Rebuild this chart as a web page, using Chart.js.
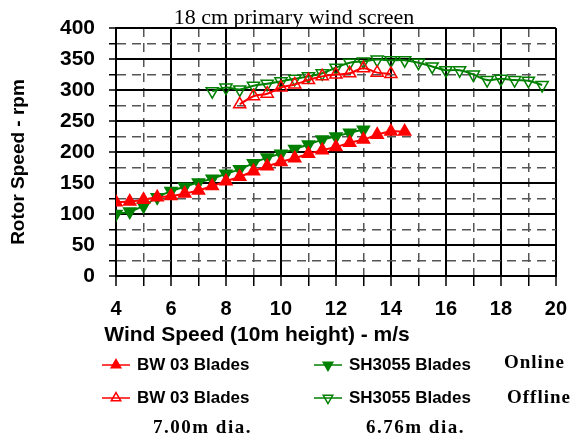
<!DOCTYPE html>
<html>
<head>
<meta charset="utf-8">
<title>18 cm primary wind screen</title>
<script src="https://cdn.jsdelivr.net/npm/chart.js@4.4.0/dist/chart.umd.min.js"></script>
<style>
body { margin: 0; background: #fff; }
</style>
</head>
<body>
<canvas id="rotor-chart" width="578" height="439"></canvas>
<script>
//DATA - rotor speed (rpm) against wind speed (m/s)
const chartTitle = '18 cm primary wind screen';

const bwOnlineSpeed = [4, 4.5, 5, 5.5, 6, 6.5, 7, 7.5, 8, 8.5, 9, 9.5, 10, 10.5, 11, 11.5, 12, 12.5, 13, 13.5, 14, 14.5];
const bwOnlineRpm = [119, 120, 123, 127, 129, 133, 138, 145, 153, 160, 169, 177, 184, 190, 197, 203, 208, 215, 220, 228, 233, 233];

const shOnlineSpeed = [4, 4.5, 5, 5.5, 6, 6.5, 7, 7.5, 8, 8.5, 9, 9.5, 10, 10.5, 11, 11.5, 12, 12.5, 13];
const shOnlineRpm = [100, 104, 113, 127, 137, 144, 151, 157, 165, 172, 182, 191, 197, 205, 212, 220, 225, 231, 236];

const bwOfflineSpeed = [8.5, 9, 9.5, 10, 10.5, 11, 11.5, 12, 12.5, 13, 13.5, 14];
const bwOfflineRpm = [277, 290, 294, 304, 309, 316, 322, 325, 327, 335, 328, 326];

const shOfflineSpeed = [7.5, 8, 8.5, 9, 9.5, 10, 10.5, 11, 11.5, 12, 12.5, 13, 13.5, 14, 14.5, 15, 15.5, 16, 16.5, 17, 17.5, 18, 18.5, 19, 19.5];
const shOfflineRpm = [298, 304, 301, 307, 310, 314, 318, 322, 327, 336, 344, 346, 349, 348, 348, 344, 338, 332, 332, 325, 316, 318, 316, 315, 308];

const seriesLabels = ['BW 03 Blades', 'SH3055 Blades', 'BW 03 Blades', 'SH3055 Blades'];
const modeLabels = ['Online', 'Offline'];
const diameterLabels = ['7.00m dia.', '6.76m dia.'];
const xAxisTitle = 'Wind Speed (10m height) - m/s';
const yAxisTitle = 'Rotor Speed - rpm';

const RED = '#ff0000';
const GREEN = '#008000';

function toPoints(xs, ys) {
    return xs.map((x, i) => ({x: x, y: ys[i]}));
}

function makeSeries(label, xs, ys, color, filled, rotation) {
    return {
        label: label,
        data: toPoints(xs, ys),
        borderColor: color,
        backgroundColor: color,
        borderWidth: 2,
        tension: 0.4,
        pointStyle: 'triangle',
        pointRotation: rotation,
        pointRadius: 7,
        pointHoverRadius: 7,
        pointBorderWidth: 1.5,
        pointBackgroundColor: filled ? color : 'rgba(255,255,255,0)',
        pointBorderColor: color
    };
}

const rotorData = {
    datasets: [
        makeSeries(seriesLabels[0], bwOnlineSpeed, bwOnlineRpm, RED, true, 0),
        makeSeries(seriesLabels[1], shOnlineSpeed, shOnlineRpm, GREEN, true, 180),
        makeSeries(seriesLabels[2], bwOfflineSpeed, bwOfflineRpm, RED, false, 0),
        makeSeries(seriesLabels[3], shOfflineSpeed, shOfflineRpm, GREEN, false, 180)
    ]
};

//grid helpers - solid black on the labelled ticks, grey dashes between
const xMajor = c => c.tick && c.tick.value % 2 === 0;
const yMajor = c => c.tick && c.tick.value % 50 === 0;

function gridFor(isMajor, tickLength) {
    return {
        color: c => isMajor(c) ? '#000' : '#555',
        lineWidth: c => isMajor(c) ? 2 : 1.5,
        tickColor: '#000',
        tickWidth: 1.5,
        tickLength: tickLength,
        tickBorderDash: []
    };
}

function borderFor(isMajor) {
    return {
        display: true,
        color: '#000',
        width: 2,
        dash: c => (c.tick && !isMajor(c)) ? [9, 6] : []
    };
}

function triangle(ctx, x, y, r, rot) {
    ctx.beginPath();
    for (let k = 0; k < 3; k++) {
        const a = (rot + k * 120) * Math.PI / 180;
        const px = x + Math.sin(a) * r;
        const py = y - Math.cos(a) * r;
        if (k === 0) ctx.moveTo(px, py); else ctx.lineTo(px, py);
    }
    ctx.closePath();
}

//title, axis titles and the legend block under the chart
const textPlugin = {
    id: 'textPlugin',
    afterDraw(chart) {
        const ctx = chart.ctx;
        ctx.save();
        ctx.fillStyle = '#000';

        ctx.font = '22px "Liberation Serif", "Times New Roman", serif';
        ctx.textAlign = 'center';
        ctx.textBaseline = 'alphabetic';
        ctx.fillText(chartTitle, 294, 24);

        ctx.font = 'bold 21px "Liberation Sans", Arial, sans-serif';
        ctx.textBaseline = 'middle';
        ctx.fillText(xAxisTitle, 257, 335);

        ctx.save();
        ctx.translate(19, 162);
        ctx.rotate(-Math.PI / 2);
        ctx.font = 'bold 19px "Liberation Sans", Arial, sans-serif';
        ctx.fillText(yAxisTitle, 0, 0);
        ctx.restore();

        //legend entries
        const slots = [[116, 365], [328, 365], [116, 398], [328, 398]];
        chart.data.datasets.forEach((ds, i) => {
            const [cx, cy] = slots[i];
            ctx.strokeStyle = ds.borderColor;
            ctx.lineWidth = 1.5;
            ctx.beginPath();
            ctx.moveTo(cx - 14, cy);
            ctx.lineTo(cx + 14, cy);
            ctx.stroke();
            triangle(ctx, cx, cy, 5.5, ds.pointRotation);
            ctx.fillStyle = ds.pointBackgroundColor;
            ctx.fill();
            ctx.stroke();
            ctx.fillStyle = '#000';
            ctx.font = 'bold 17px "Liberation Sans", Arial, sans-serif';
            ctx.textAlign = 'left';
            ctx.fillText(ds.label, cx + 21, cy);
        });

        ctx.font = 'bold 19px "Liberation Serif", "Times New Roman", serif';
        ctx.letterSpacing = '1px';
        ctx.textAlign = 'left';
        ctx.fillText(modeLabels[0], 504, 363);
        ctx.fillText(modeLabels[1], 507, 398);
        ctx.letterSpacing = '1.5px';
        ctx.fillText(diameterLabels[0], 153, 428);
        ctx.fillText(diameterLabels[1], 366, 428);
        ctx.restore();
    }
};

Chart.defaults.font.family = '"Liberation Sans", Arial, sans-serif';
Chart.defaults.color = '#000';

const rotorCanvas = document.getElementById('rotor-chart');
let rotorChart = new Chart(rotorCanvas, {
    type: 'line',
    data: rotorData,
    options: {
        responsive: false,
        animation: false,
        layout: {
            padding: {left: 0, right: 20, top: 28, bottom: 123}
        },
        scales: {
            x: {
                type: 'linear',
                min: 4,
                max: 20,
                afterFit: s => { s.height = 40; },
                ticks: {
                    stepSize: 1,
                    autoSkip: false,
                    maxRotation: 0,
                    padding: 11,
                    font: {size: 20, weight: 'bold'},
                    callback: v => v % 2 === 0 ? v : ''
                },
                grid: gridFor(xMajor, 10),
                border: borderFor(xMajor)
            },
            y: {
                min: 0,
                max: 400,
                afterFit: s => { s.width = 116; },
                ticks: {
                    stepSize: 25,
                    autoSkip: false,
                    padding: 14,
                    font: {size: 21, weight: 'bold'},
                    callback: v => v % 50 === 0 ? v : ''
                },
                grid: gridFor(yMajor, 7),
                border: borderFor(yMajor)
            }
        },
        plugins: {
            legend: {display: false},
            title: {display: false},
            tooltip: {enabled: false}
        }
    },
    plugins: [textPlugin]
});
</script>
</body>
</html>
